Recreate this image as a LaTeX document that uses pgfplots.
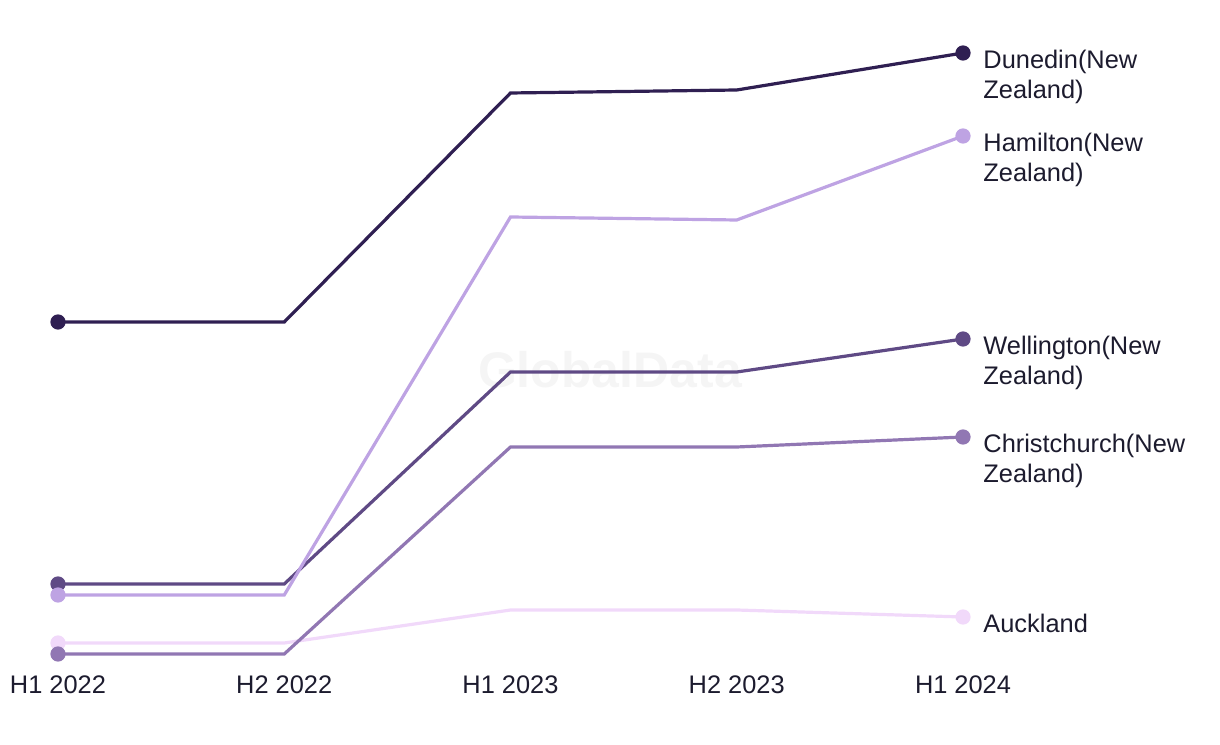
\documentclass[border=0pt]{standalone}
\usepackage{pgfplots}
\pgfplotsset{compat=1.18}
\usepackage{fontspec}
\setmainfont{Liberation Sans}
\definecolor{cDun}{HTML}{2F1F52}
\definecolor{cHam}{HTML}{BEA3E3}
\definecolor{cWel}{HTML}{5F4A85}
\definecolor{cChr}{HTML}{9177B3}
\definecolor{cAuk}{HTML}{F1D9FA}
\definecolor{cTxt}{HTML}{1C1B2E}
\definecolor{cWm}{HTML}{F5F5F5}
\newcommand{\lab}[2]{\fontsize{12.7}{15}\selectfont\begin{tabular}[t]{@{}l@{}}#1\\#2\end{tabular}}
\begin{document}
\begin{tikzpicture}
\path[use as bounding box] (0,0) rectangle (610pt,372pt);
\begin{axis}[
  at={(0pt,39.5pt)}, anchor=south west,
  scale only axis, width=610pt, height=322.5pt,
  xmin=-0.25635, xmax=5.13591, ymin=79, ymax=724,
  clip=false,
  axis line style={draw=none}, tick style={draw=none},
  ytick=\empty,
  xtick={0,1,2,3,4},
  xticklabels={H1 2022,H2 2022,H1 2023,H2 2023,H1 2024},
  xticklabel style={font=\fontsize{12.7}{15}\selectfont, text=cTxt, yshift=-2pt},
  every axis plot/.append style={line width=1.6pt, mark=*, mark size=3pt, mark indices={1,5}},
]
\node[text=cWm, font=\fontsize{25}{30}\selectfont\bfseries] at (axis cs:2.44,374) {GlobalData};
\addplot[color=cAuk, mark options={fill=cAuk, draw=cAuk}] coordinates {(0,101) (1,101) (2,134) (3,134) (4,127)};
\addplot[color=cChr, mark options={fill=cChr, draw=cChr}] coordinates {(0,90) (1,90) (2,297) (3,297) (4,307)};
\addplot[color=cWel, mark options={fill=cWel, draw=cWel}] coordinates {(0,160) (1,160) (2,372) (3,372) (4,405)};
\addplot[color=cHam, mark options={fill=cHam, draw=cHam}] coordinates {(0,149) (1,149) (2,527) (3,524) (4,608)};
\addplot[color=cDun, mark options={fill=cDun, draw=cDun}] coordinates {(0,422) (1,422) (2,651) (3,654) (4,691)};
\begin{scope}[every node/.style={anchor=base west, inner sep=0pt, xshift=10pt, yshift=-8pt, text=cTxt}]
\node at (axis cs:4,691) {\lab{Dunedin(New}{Zealand)}};
\node at (axis cs:4,608) {\lab{Hamilton(New}{Zealand)}};
\node at (axis cs:4,405) {\lab{Wellington(New}{Zealand)}};
\node at (axis cs:4,307) {\lab{Christchurch(New}{Zealand)}};
\node at (axis cs:4,127) {\fontsize{12.7}{15}\selectfont Auckland};
\end{scope}
\end{axis}
\end{tikzpicture}
\end{document}
